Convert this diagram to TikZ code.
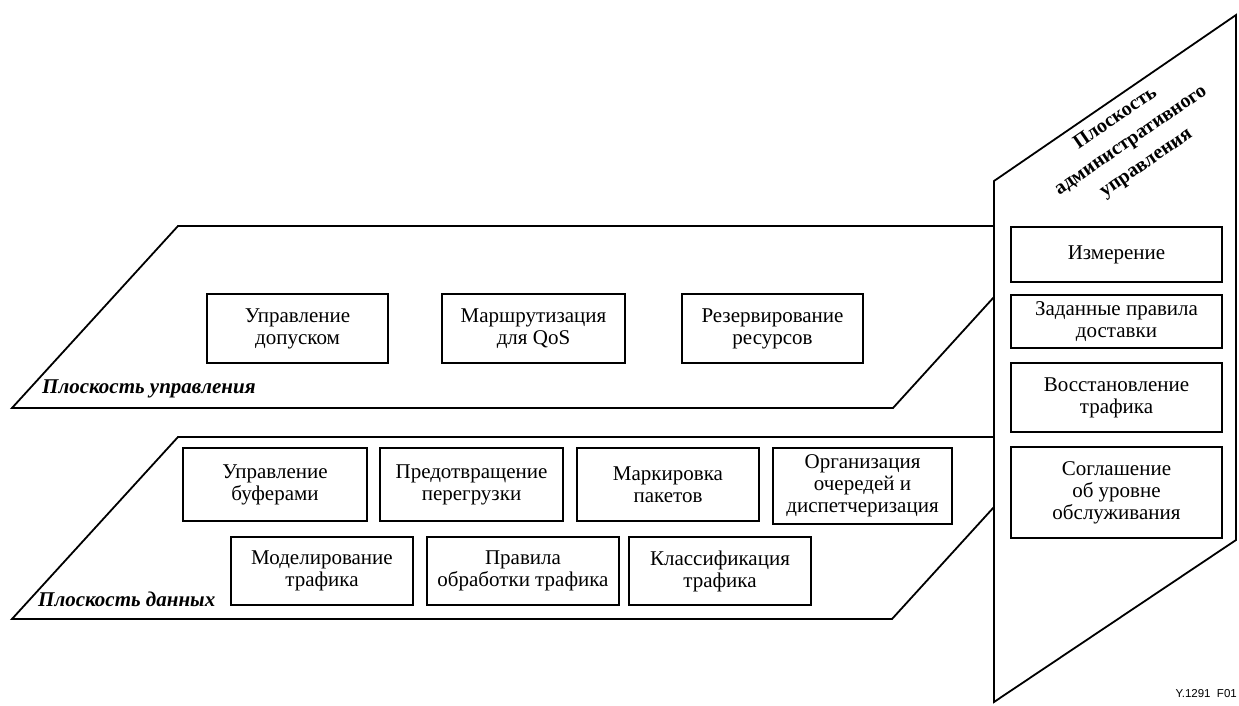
\documentclass[tikz,border=0pt]{standalone}
\usepackage{fontspec}
\setmainfont{Liberation Serif}
\setsansfont{Liberation Sans}
\usetikzlibrary{positioning}

\begin{document}
\begin{tikzpicture}[x=1pt,y=-1pt,align=center]
    \tikzset{
        func/.style={
            draw,
            line width=2.2pt,
            minimum width=182pt,
            minimum height=69pt,
            inner sep=0pt,
            align=center,
            font=\fontsize{21}{22}\selectfont
        },
        plane/.style={draw, line width=1.8pt},
        planelabel/.style={
            anchor=base west,
            inner sep=0pt,
            font=\fontsize{21}{22}\selectfont\bfseries\itshape
        }
    }
    \useasboundingbox (0,0) rectangle (1239,706);

    % Management plane
    \coordinate (M_TL) at (994,181);
    \coordinate (M_TR) at (1236,15);
    \coordinate (M_BR) at (1236,540);
    \coordinate (M_BL) at (994,702);
    \draw[plane] (M_TL) -- (M_TR) -- (M_BR) -- (M_BL) -- cycle;

    \node[rotate=34.5, font=\fontsize{20}{27}\selectfont\bfseries] (M_label) at (1131,141)
        {Плоскость\\административного\\управления};

    \node[func, minimum width=211pt, minimum height=55pt] (meas) at (1116.5,254.5) {Измерение};
    \node[func, minimum width=211pt, minimum height=53pt] (deliv) at (1116.5,321.5) {Заданные правила\\доставки};
    \node[func, minimum width=211pt, minimum height=69pt] (restore) at (1116.5,397.5) {Восстановление\\трафика};
    \node[func, minimum width=211pt, minimum height=91pt] (sla) at (1116.5,492.5) {Соглашение\\об уровне\\обслуживания};

    % Control plane
    \coordinate (C_TL) at (178,226);
    \coordinate (C_TR) at (994,226);
    \coordinate (C_BL) at (12,408);
    \coordinate (C_BR) at (893,408);
    \coordinate (C_R) at (994,297);
    \draw[plane] (C_TR) -- (C_TL) -- (C_BL) -- (C_BR) -- (C_R);

    \node[planelabel] (C_label) at (42,393) {Плоскость управления};

    \node[func, minimum width=181pt] (admit) at (297.5,328.5) {Управление\\допуском};
    \node[func, minimum width=183pt] (route) at (533.5,328.5) {Маршрутизация\\для QoS};
    \node[func, minimum width=181pt] (resv) at (772.5,328.5) {Резервирование\\ресурсов};

    % Data plane
    \coordinate (D_TL) at (178,437);
    \coordinate (D_TR) at (994,437);
    \coordinate (D_BL) at (12,619);
    \coordinate (D_BR) at (892,619);
    \coordinate (D_R) at (994,507);
    \draw[plane] (D_TR) -- (D_TL) -- (D_BL) -- (D_BR) -- (D_R);

    \node[planelabel] (D_label) at (38,606) {Плоскость данных};

    \node[func, minimum width=184pt, minimum height=73pt] (buf) at (275,484.5) {Управление\\буферами};
    \node[func, minimum width=183pt, minimum height=73pt] (cong) at (471.5,484.5) {Предотвращение\\перегрузки};
    \node[func, minimum width=182pt, minimum height=73pt] (mark) at (668,484.5) {Маркировка\\пакетов};
    \node[func, minimum width=179pt, minimum height=76pt] (queue) at (862.5,486) {Организация\\очередей и\\диспетчеризация};

    \node[func, minimum width=182pt, minimum height=68pt] (shape) at (322,571) {Моделирование\\трафика};
    \node[func, minimum width=192pt, minimum height=68pt] (police) at (523,571) {Правила\\обработки трафика};
    \node[func, minimum width=182pt, minimum height=68pt] (class) at (720,571) {Классификация\\трафика};

    % Figure tag
    \node[anchor=base east, inner sep=0pt, font=\sffamily\fontsize{11.5}{13}\selectfont] (tag) at (1237,697) {Y.1291~~F01};
\end{tikzpicture}
\end{document}
